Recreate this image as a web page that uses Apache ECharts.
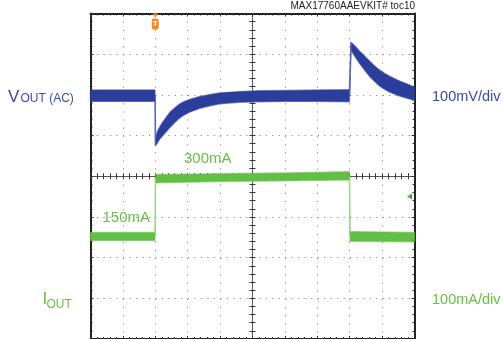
<!DOCTYPE html>
<html>
<head>
<meta charset="utf-8">
<script src="https://cdn.jsdelivr.net/npm/echarts@6/dist/echarts.min.js"></script>
<style>
html, body { margin: 0; padding: 0; background: #fff; }
#main { width: 503px; height: 339px; }
</style>
</head>
<body>
<div id="main"></div>
<script>
// time axis in divisions (10 div across the screen)
// VOUT (AC), mV, noise band (upper / lower edge)
var vTime  = [0, 1.99, 2.01, 2.04, 2.08, 2.15, 2.22, 2.3, 2.45, 2.6, 2.76, 2.9, 3.07, 3.38, 3.7, 4.0, 4.6, 5.2, 6, 7, 7.99,
              8.04, 8.1, 8.2, 8.3, 8.45, 8.61, 8.77, 8.92, 9.07, 9.23, 9.54, 9.8, 10];
var vUpper = [12, 12, -110, -97, -87, -77, -68, -59, -43, -32, -22, -16, -11, -4, 1, 5, 8, 10, 11, 12, 13,
              129, 125, 117, 108, 96, 83, 71, 61, 53, 46, 34, 26, 19];
var vLower = [-16, -16, -125, -121, -116, -107, -101, -94, -80, -68, -56, -49, -42, -33, -27, -22, -18, -17, -16, -16, -17,
              110, 102, 90, 78, 62, 46, 33, 22, 14, 7, -3, -9, -14];
// thin edges of the load steps
var vStepDown = [[2.0, -2], [2.0, -125]];
var vStepUp   = [[8.0, -2], [8.04, 129]];

// IOUT, mA
var iTime  = [0, 1.99, 2.01, 4, 6, 7.99, 8.01, 10];
var iUpper = [162, 162, 304, 306, 308, 311, 164, 162];
var iLower = [142, 142, 284, 287, 289, 291, 140, 139];
var iStepUp   = [[2.0, 152], [2.0, 294]];
var iStepDown = [[8.0, 301], [8.0, 152]];

var blue = '#2c3e9b';
var green = '#62bf45';
var font = '"Liberation Sans", Arial, sans-serif';

var myChart = echarts.init(document.getElementById('main'));

// noisy trace drawn as one filled band between lower and upper edge
function bandSeries(time, lower, upper, yIdx, color, edge, z) {
    return {
        type: 'custom', yAxisIndex: yIdx, z: z, silent: true,
        data: time.map(function (t, i) { return [t, lower[i], upper[i]]; }),
        encode: {x: 0, y: [1, 2]},
        renderItem: function (params, api) {
            if (params.dataIndex !== 0) return null;
            var pts = [];
            for (var i = 0; i < time.length; i++) pts.push(api.coord([time[i], upper[i]]));
            for (var j = time.length - 1; j >= 0; j--) pts.push(api.coord([time[j], lower[j]]));
            return {
                type: 'polygon',
                shape: {points: pts},
                style: {fill: color, stroke: edge, lineWidth: 1.4, lineJoin: 'round'}
            };
        }
    };
}

var tickStyle = {color: '#333', width: 1};
var dotH = {color: '#8c8c8c', width: 1, type: [1.2, 5.29]};
var dotV = {color: '#8c8c8c', width: 1, type: [1.2, 6.95]};

// border axes
function borderX(pos, split) {
    return {
        type: 'value', min: 0, max: 10, interval: 1, position: pos,
        axisLine: {show: true, onZero: false, lineStyle: {color: '#222', width: 2}},
        axisTick: {show: true, inside: true, length: 3, lineStyle: tickStyle},
        minorTick: {show: true, splitNumber: 5, length: 2, lineStyle: tickStyle},
        axisLabel: {show: false},
        splitLine: {show: split, lineStyle: dotV}
    };
}
function borderY(pos, min, max, split) {
    return {
        type: 'value', min: min, max: max, interval: 100, position: pos,
        axisLine: {show: true, onZero: false, lineStyle: {color: '#222', width: 2}},
        axisTick: {show: true, inside: true, length: 3, lineStyle: tickStyle},
        minorTick: {show: true, splitNumber: 5, length: 2, lineStyle: tickStyle},
        axisLabel: {show: false},
        splitLine: {show: split, lineStyle: dotH}
    };
}
// centre cross lines with ticks on both sides
function centerAxis(min, max, pos, lineShow) {
    return {
        type: 'value', min: min, max: max, interval: 1, position: pos,
        axisLine: {show: lineShow, onZero: true, onZeroAxisIndex: 2, lineStyle: {color: '#555', width: 1}},
        axisTick: {show: true, inside: true, length: 3, lineStyle: tickStyle},
        minorTick: {show: true, splitNumber: 5, length: 3, lineStyle: tickStyle},
        axisLabel: {show: false},
        splitLine: {show: false}
    };
}

var option = {
    animation: false,
    grid: {left: 90.5, top: 13.5, width: 324, height: 326},
    xAxis: [
        borderX('bottom', true),
        borderX('top', false),
        centerAxis(-5, 5, 'bottom', true),
        centerAxis(-5, 5, 'top', false)
    ],
    yAxis: [
        borderY('left', -600, 200, true),
        borderY('right', -100, 700, false),
        centerAxis(-4, 4, 'left', true),
        centerAxis(-4, 4, 'right', false)
    ],
    series: [
        bandSeries(iTime, iLower, iUpper, 1, green, 'rgba(98,191,69,0.55)', 3),
        {type: 'line', yAxisIndex: 1, data: iStepUp, symbol: 'none', lineStyle: {width: 1, color: '#9bd684'}, z: 3},
        {type: 'line', yAxisIndex: 1, data: iStepDown, symbol: 'none', lineStyle: {width: 1, color: '#9bd684'}, z: 3,
         markPoint: {
             symbol: 'triangle', symbolSize: [6, 5], symbolRotate: 90, symbolOffset: [-5, 0],
             itemStyle: {color: '#3fae3f'}, label: {show: false},
             data: [{coord: [10, 250]}]
         }},
        bandSeries(vTime, vLower, vUpper, 0, blue, 'rgba(44,62,155,0.55)', 4),
        {type: 'line', yAxisIndex: 0, data: vStepDown, symbol: 'none', lineStyle: {width: 1.2, color: '#5565b3'}, z: 4},
        {type: 'line', yAxisIndex: 0, data: vStepUp, symbol: 'none', lineStyle: {width: 1.2, color: '#5565b3'}, z: 4,
         markPoint: {
             itemStyle: {color: '#f0882a'},
             data: [
                 {coord: [2, 200], symbol: 'triangle', symbolSize: [6, 4], symbolRotate: 180, symbolOffset: [0, 2],
                  label: {show: false}},
                 {coord: [2, 200], symbol: 'roundRect', symbolSize: [7, 11], symbolOffset: [0, 10.5],
                  label: {show: true, formatter: 'T', color: '#fff', fontSize: 8, fontWeight: 'bold', fontFamily: font}}
             ]
         }}
    ],
    graphic: [
        {type: 'text', x: 415, y: 6.4, style: {text: 'MAX17760AAEVKIT# toc10', font: '10px ' + font, fill: '#222', align: 'right', verticalAlign: 'middle'}},
        {type: 'text', x: 8, y: 97, style: {text: 'V', font: '17px ' + font, fill: '#3a4aa6', verticalAlign: 'middle'}},
        {type: 'text', x: 20.5, y: 98.7, style: {text: 'OUT (AC)', font: '12px ' + font, fill: '#3a4aa6', verticalAlign: 'middle'}},
        {type: 'text', x: 42.5, y: 299.5, style: {text: 'I', font: '17px ' + font, fill: '#66c147', verticalAlign: 'middle'}},
        {type: 'text', x: 46.5, y: 304.7, style: {text: 'OUT', font: '12px ' + font, fill: '#66c147', verticalAlign: 'middle'}},
        {type: 'text', x: 432, y: 96.8, style: {text: '100mV/div', font: '14.5px ' + font, fill: '#3a4aa6', verticalAlign: 'middle'}},
        {type: 'text', x: 432, y: 300.3, style: {text: '100mA/div', font: '14.5px ' + font, fill: '#66c147', verticalAlign: 'middle'}},
        {type: 'text', x: 184, y: 159.3, style: {text: '300mA', font: '15px ' + font, fill: '#66c147', verticalAlign: 'middle'}},
        {type: 'text', x: 102.5, y: 217.5, style: {text: '150mA', font: '15px ' + font, fill: '#66c147', verticalAlign: 'middle'}}
    ]
};
myChart.setOption(option);
</script>
</body>
</html>
